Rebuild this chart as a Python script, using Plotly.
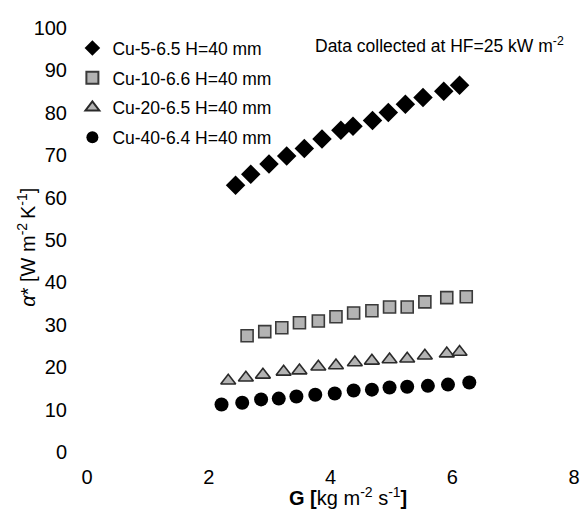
import plotly.graph_objects as go

# Data
g_cu5 = [2.44, 2.69, 2.99, 3.28, 3.57, 3.86, 4.17, 4.37, 4.69, 4.95, 5.23, 5.52, 5.86, 6.12]
a_cu5 = [62.9, 65.5, 67.9, 69.8, 71.6, 73.8, 75.9, 76.8, 78.2, 80.1, 82.0, 83.6, 85.1, 86.5]

g_cu10 = [2.63, 2.92, 3.20, 3.49, 3.80, 4.09, 4.38, 4.68, 4.97, 5.26, 5.55, 5.91, 6.23]
a_cu10 = [27.4, 28.4, 29.3, 30.5, 30.9, 31.9, 32.8, 33.3, 34.2, 34.2, 35.4, 36.4, 36.6]

g_cu20 = [2.32, 2.61, 2.89, 3.23, 3.49, 3.80, 4.09, 4.40, 4.68, 4.97, 5.26, 5.55, 5.91, 6.12]
a_cu20 = [16.8, 17.5, 18.2, 18.9, 19.2, 20.1, 20.4, 21.1, 21.5, 21.8, 22.0, 22.7, 23.2, 23.6]

g_cu40 = [2.21, 2.55, 2.86, 3.15, 3.44, 3.75, 4.07, 4.38, 4.68, 4.97, 5.26, 5.60, 5.93, 6.28]
a_cu40 = [11.2, 11.6, 12.4, 12.6, 13.1, 13.5, 13.8, 14.5, 14.7, 15.2, 15.4, 15.6, 15.9, 16.4]

series_names = ["Cu-5-6.5 H=40 mm", "Cu-10-6.6 H=40 mm", "Cu-20-6.5 H=40 mm", "Cu-40-6.4 H=40 mm"]

x_ticks = [0, 2, 4, 6, 8]
y_ticks = [0, 10, 20, 30, 40, 50, 60, 70, 80, 90, 100]

FONT = "Liberation Sans, Arial, sans-serif"

fig = go.Figure()
fig.add_trace(go.Scatter(x=g_cu5, y=a_cu5, mode="markers", name=series_names[0],
                         legendgroup="a",
                         marker=dict(symbol="diamond", size=15, color="black",
                                     line=dict(width=0))))
fig.add_trace(go.Scatter(x=g_cu10, y=a_cu10, mode="markers", name=series_names[1],
                         legendgroup="b",
                         marker=dict(symbol="square", size=12, color="#b3b3b3",
                                     line=dict(width=1.6, color="#3a3a3a"))))
fig.add_trace(go.Scatter(x=g_cu20, y=a_cu20, mode="markers", name=series_names[2],
                         legendgroup="c",
                         marker=dict(symbol="triangle-up", size=13, color="#b3b3b3",
                                     line=dict(width=1.6, color="#2a2a2a"))))
fig.add_trace(go.Scatter(x=g_cu40, y=a_cu40, mode="markers", name=series_names[3],
                         legendgroup="d",
                         marker=dict(symbol="circle", size=14, color="black",
                                     line=dict(width=0))))

fig.update_layout(
    width=587, height=518,
    margin=dict(l=87, r=7, t=27.5, b=65.5),
    paper_bgcolor="white", plot_bgcolor="white",
    font=dict(family=FONT, size=18, color="black"),
    showlegend=True,
    legend=dict(x=-0.03, y=0.995, xanchor="left", yanchor="top",
                bgcolor="rgba(0,0,0,0)", font=dict(size=17.5, family=FONT),
                tracegroupgap=4, itemsizing="constant"),
    xaxis=dict(range=[0, 8], tickvals=x_ticks, showgrid=False, zeroline=False,
               showline=False, ticks="", ticklabelstandoff=11,
               tickfont=dict(size=20)),
    yaxis=dict(range=[0, 100], tickvals=y_ticks, showgrid=False, zeroline=False,
               showline=False, ticks="", ticklabelstandoff=19,
               tickfont=dict(size=20)),
    annotations=[
        dict(text="<b>G [</b>kg m<sup>-2</sup> s<sup>-1</sup><b>]</b>",
             xref="paper", yref="paper", x=(351 - 87) / 493, y=-(497 - 452.5) / 425,
             xanchor="center", yanchor="middle", showarrow=False,
             font=dict(size=20, family=FONT)),
        dict(text="<i>α</i>* [W m<sup>-2 </sup>K<sup>-1</sup>]",
             xref="paper", yref="paper", x=-(87 - 26) / 493, y=(452.5 - 247) / 425,
             xanchor="center", yanchor="middle", textangle=-90, showarrow=False,
             font=dict(size=20, family=FONT)),
        dict(text="Data collected at HF=25 kW m<sup>-2</sup>",
             xref="paper", yref="paper", x=(316 - 87) / 493, y=(452.5 - 45) / 425,
             xanchor="left", yanchor="middle", showarrow=False,
             font=dict(size=17.5, family=FONT)),
    ],
)

fig.write_html("out.html")
